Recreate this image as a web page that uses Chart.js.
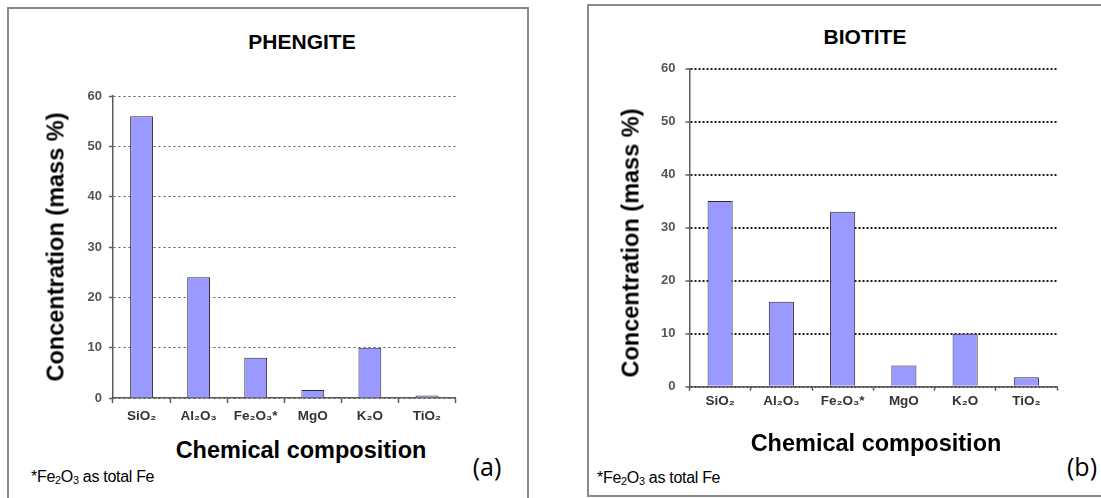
<!DOCTYPE html>
<html>
<head>
<meta charset="utf-8">
<script src="https://cdn.jsdelivr.net/npm/chart.js@4.4.1/dist/chart.umd.min.js"></script>
<style>
    html, body { margin: 0; padding: 0; background: #fff; }
    body { width: 1101px; height: 498px; position: relative; overflow: hidden;
           font-family: 'Liberation Sans', Arial, sans-serif; color: #000; }
    .panel { position: absolute; border: 2px solid #8a8a8a; box-sizing: border-box; }
    #panel-a { left: 7px; top: 7px; width: 522px; height: 500px; }
    #panel-b { left: 587px; top: 4px; width: 530px; height: 493px; }
    canvas { position: absolute; }
    #chart-a { left: 20px; top: 80px; }
    #chart-b { left: 600px; top: 50px; }
    .lbl { position: absolute; white-space: nowrap; transform: translate(-50%, -50%); }
    .title { font-size: 21px; font-weight: bold; }
    .axis-title { font-size: 23.5px; font-weight: bold; }
    .y-title { transform: translate(-50%, -50%) rotate(-90deg); }
    .note { position: absolute; white-space: nowrap; font-size: 16px; letter-spacing: -0.3px;
            transform: translateY(-50%); }
    .note sub { font-size: 0.68em; vertical-align: -0.2em; line-height: 0; }
    .tag { font-family: 'Open Sans', sans-serif; font-size: 25px; }
</style>
</head>
<body>
<div class="panel" id="panel-a"></div>
<div class="panel" id="panel-b"></div>

<canvas id="chart-a" width="450" height="350"></canvas>
<canvas id="chart-b" width="480" height="380"></canvas>

<!-- panel (a) text -->
<div class="lbl title" style="left:302px; top:42px;">PHENGITE</div>
<div class="lbl axis-title y-title" style="left:56px; top:247px;">Concentration (mass %)</div>
<div class="lbl axis-title" style="left:301px; top:450px;">Chemical composition</div>
<div class="note" style="left:31px; top:477px;">*Fe<sub>2</sub>O<sub>3</sub> as total Fe</div>
<div class="lbl tag" style="left:487px; top:466px;">(a)</div>

<!-- panel (b) text -->
<div class="lbl title" style="left:865px; top:37px;">BIOTITE</div>
<div class="lbl axis-title y-title" style="left:631px; top:243px;">Concentration (mass %)</div>
<div class="lbl axis-title" style="left:876px; top:443px;">Chemical composition</div>
<div class="note" style="left:597px; top:478px;">*Fe<sub>2</sub>O<sub>3</sub> as total Fe</div>
<div class="lbl tag" style="left:1082px; top:466px;">(b)</div>

<script>
// Oxides on the x axis (same order in both panels)
const categories = ['SiO₂', 'Al₂O₃', 'Fe₂O₃*', 'MgO', 'K₂O', 'TiO₂'];

// Concentration, mass %
const phengiteValues = [56, 24, 8, 1.6, 10, 0.5];
const biotiteValues  = [35, 16, 33, 4, 10, 1.8];

// Y axis range / step
const yMin  = 0;
const yMax  = 60;
const yStep = 10;

const BAR_FILL   = '#9999ff';
const BAR_EDGE   = '#2a2a3a';
const AXIS_COLOR = '#5c5c5c';

Chart.defaults.font.family = "'Liberation Sans', Arial, sans-serif";

// ---------------------------------------------------------------------------
// One bar panel. Plot area is pinned with afterFit so it lines up with the
// framed boxes drawn in HTML.
// ---------------------------------------------------------------------------

function buildChart(id, values, cfg) {
    const ctx = document.getElementById(id).getContext('2d');
    return new Chart(ctx, {
        type: 'bar',
        data: {
            labels: categories,
            datasets: [{
                data: values,
                backgroundColor: BAR_FILL,
                borderColor: BAR_EDGE,
                borderWidth: 1,
                barPercentage: cfg.barPct,
                categoryPercentage: 1,
            }],
        },
        options: {
            responsive: false,
            animation: false,
            layout: { padding: { left: 0, top: cfg.padTop, right: cfg.padRight, bottom: 0 } },
            plugins: {
                legend:  { display: false },
                tooltip: { enabled: false },
            },
            scales: {
                x: {
                    grid: {
                        display: true,
                        drawOnChartArea: false,
                        offset: true,
                        tickLength: cfg.xTickLen,
                        tickColor: AXIS_COLOR,
                        tickWidth: 1.5,
                    },
                    border: { display: true, color: AXIS_COLOR, width: 1.5 },
                    ticks: {
                        color: '#333',
                        font: { size: 13.5, weight: 'bold' },
                        padding: cfg.xTickPad,
                        maxRotation: 0,
                        autoSkip: false,
                    },
                    afterFit: s => { s.height = cfg.xHeight; },
                },
                y: {
                    min: yMin,
                    max: yMax,
                    ticks: {
                        stepSize: yStep,
                        color: '#555',
                        font: { size: 13, weight: 'bold' },
                        padding: cfg.yTickPad,
                    },
                    grid: {
                        color: cfg.gridColor,
                        lineWidth: cfg.gridWidth,
                        tickLength: 4,
                        tickColor: AXIS_COLOR,
                        tickWidth: 1.5,
                        tickBorderDash: [],
                    },
                    border: { display: true, color: AXIS_COLOR, width: 1.5, dash: cfg.gridDash },
                    afterFit: s => { s.width = cfg.yWidth; },
                },
            },
        },
    });
}

buildChart('chart-a', phengiteValues, {
    barPct: 0.4,
    padTop: 16, padRight: 14.5,
    xHeight: 32, yWidth: 93,
    xTickLen: 5, xTickPad: 5.5, yTickPad: 7,
    gridColor: '#5a5a5a', gridWidth: 1, gridDash: [2, 3],
});

buildChart('chart-b', biotiteValues, {
    barPct: 0.41,
    padTop: 18.5, padRight: 23,
    xHeight: 43.3, yWidth: 89.5,
    xTickLen: 4, xTickPad: 2, yTickPad: 10,
    gridColor: '#1e1e1e', gridWidth: 2, gridDash: [2, 2],
});
</script>
</body>
</html>
